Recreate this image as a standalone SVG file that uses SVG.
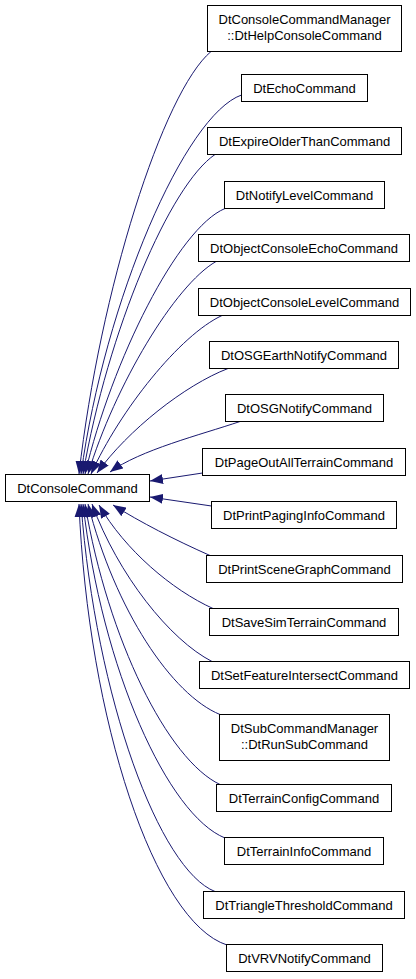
<svg xmlns="http://www.w3.org/2000/svg" width="416" height="979" viewBox="0 0 416 979">
<style>
.node rect{fill:#fff;stroke:#000;stroke-width:1}
.node text{font-family:"Liberation Sans",Arial,sans-serif;font-size:13px;text-anchor:middle;fill:#000}
.edges path{fill:none;stroke:#191970;stroke-width:1;marker-end:url(#arr)}
</style>
<defs>
<marker id="arr" markerUnits="userSpaceOnUse" markerWidth="13" markerHeight="10" viewBox="0 0 13 10" refX="13" refY="5" orient="auto">
<path d="M0,0 L13,5 L0,10 z" fill="#191970"/>
</marker>
</defs>
<rect width="416" height="979" fill="#fff"/>
<g id="edges" class="edges">
<path d="M211,51.5 C163,92 100,290 79,474"/>
<path d="M241.5,95 C185,115 105,300 81,474"/>
<path d="M215,154.5 C170,185 108,330 83,474"/>
<path d="M225,208.5 C178,228 112,360 85,474"/>
<path d="M216,261.5 C175,285 115,385 88,474"/>
<path d="M222,315.5 C180,335 120,410 91,474"/>
<path d="M228,368.5 C185,385 128,430 97,473"/>
<path d="M240,421.5 C200,435 140,450 110,472"/>
<path d="M202.5,473 L150,481"/>
<path d="M211.5,506 L150,497"/>
<path d="M210,555.5 C175,540 140,522 113,505"/>
<path d="M213,608.5 C172,590 125,550 99,505"/>
<path d="M212,661.5 C170,640 118,575 92,504"/>
<path d="M220,714.5 C172,695 115,610 88,504"/>
<path d="M220,784.5 C168,760 108,640 85,504"/>
<path d="M225,838 C168,815 102,670 83,504"/>
<path d="M215,891.5 C160,870 96,700 81,504"/>
<path d="M227,945 C155,922 88,720 79,504"/>
</g>
<g id="DtConsoleCommand" class="node"><rect x="5.5" y="474.5" width="144" height="27"/><text x="77.5" y="492.5">DtConsoleCommand</text></g>
<g id="DtHelpConsoleCommand" class="node"><rect x="207.5" y="5.5" width="194" height="46"/><text x="304.5" y="24">DtConsoleCommandManager</text><text x="304.5" y="40">::DtHelpConsoleCommand</text></g>
<g id="DtEchoCommand" class="node"><rect x="241.5" y="74.5" width="126" height="27"/><text x="304.5" y="92.5">DtEchoCommand</text></g>
<g id="DtExpireOlderThanCommand" class="node"><rect x="207.5" y="127.5" width="194" height="27"/><text x="304.5" y="145.5">DtExpireOlderThanCommand</text></g>
<g id="DtNotifyLevelCommand" class="node"><rect x="224.5" y="181.5" width="160" height="27"/><text x="304.5" y="199.5">DtNotifyLevelCommand</text></g>
<g id="DtObjectConsoleEchoCommand" class="node"><rect x="198.5" y="234.5" width="211" height="27"/><text x="304" y="252.5">DtObjectConsoleEchoCommand</text></g>
<g id="DtObjectConsoleLevelCommand" class="node"><rect x="198.5" y="288.5" width="212" height="27"/><text x="304.5" y="306.5">DtObjectConsoleLevelCommand</text></g>
<g id="DtOSGEarthNotifyCommand" class="node"><rect x="209.5" y="341.5" width="189" height="27"/><text x="304" y="359.5">DtOSGEarthNotifyCommand</text></g>
<g id="DtOSGNotifyCommand" class="node"><rect x="225.5" y="394.5" width="158" height="27"/><text x="304.5" y="412.5">DtOSGNotifyCommand</text></g>
<g id="DtPageOutAllTerrainCommand" class="node"><rect x="202.5" y="448.5" width="203" height="27"/><text x="304" y="466.5">DtPageOutAllTerrainCommand</text></g>
<g id="DtPrintPagingInfoCommand" class="node"><rect x="211.5" y="501.5" width="185" height="27"/><text x="304" y="519.5">DtPrintPagingInfoCommand</text></g>
<g id="DtPrintSceneGraphCommand" class="node"><rect x="206.5" y="555.5" width="196" height="27"/><text x="304.5" y="573.5">DtPrintSceneGraphCommand</text></g>
<g id="DtSaveSimTerrainCommand" class="node"><rect x="209.5" y="608.5" width="189" height="27"/><text x="304" y="626.5">DtSaveSimTerrainCommand</text></g>
<g id="DtSetFeatureIntersectCommand" class="node"><rect x="199.5" y="661.5" width="210" height="27"/><text x="304.5" y="679.5">DtSetFeatureIntersectCommand</text></g>
<g id="DtRunSubCommand" class="node"><rect x="219.5" y="714.5" width="170" height="46"/><text x="304.5" y="733">DtSubCommandManager</text><text x="304.5" y="749">::DtRunSubCommand</text></g>
<g id="DtTerrainConfigCommand" class="node"><rect x="216.5" y="784.5" width="175" height="27"/><text x="304" y="802.5">DtTerrainConfigCommand</text></g>
<g id="DtTerrainInfoCommand" class="node"><rect x="224.5" y="837.5" width="159" height="27"/><text x="304" y="855.5">DtTerrainInfoCommand</text></g>
<g id="DtTriangleThresholdCommand" class="node"><rect x="203.5" y="891.5" width="201" height="27"/><text x="304" y="909.5">DtTriangleThresholdCommand</text></g>
<g id="DtVRVNotifyCommand" class="node"><rect x="226.5" y="944.5" width="156" height="27"/><text x="304.5" y="962.5">DtVRVNotifyCommand</text></g>
</svg>
